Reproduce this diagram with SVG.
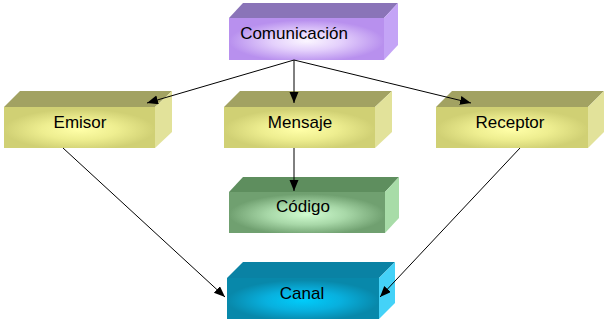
<svg xmlns="http://www.w3.org/2000/svg" width="606" height="323" viewBox="0 0 606 323">
<defs>
<radialGradient id="gPur" cx="0.5" cy="0.55" r="0.5"><stop offset="0" stop-color="#fbf6ff"/><stop offset="0.45" stop-color="#e4d0fc"/><stop offset="1" stop-color="#b890ee"/></radialGradient>
<radialGradient id="gYel" cx="0.5" cy="0.55" r="0.5"><stop offset="0" stop-color="#ffffa8"/><stop offset="0.5" stop-color="#eeee90"/><stop offset="1" stop-color="#d0d074"/></radialGradient>
<radialGradient id="gGrn" cx="0.5" cy="0.55" r="0.5"><stop offset="0" stop-color="#d0fcd0"/><stop offset="0.5" stop-color="#a8d8a8"/><stop offset="1" stop-color="#70a070"/></radialGradient>
<radialGradient id="gBlu" cx="0.5" cy="0.55" r="0.5"><stop offset="0" stop-color="#00ccfa"/><stop offset="0.5" stop-color="#08b0de"/><stop offset="1" stop-color="#0888aa"/></radialGradient>
<marker id="ah" markerUnits="userSpaceOnUse" markerWidth="12" markerHeight="10" refX="11" refY="4.5" orient="auto"><path d="M0,0 L11,4.5 L0,9 z" fill="#000"/></marker>
</defs>
<style>
text{font-family:"Liberation Sans",Arial,sans-serif;font-size:17px;fill:#000;text-anchor:middle}
.c line{stroke:#000;stroke-width:1;marker-end:url(#ah)}
.pur .top{fill:#8a74b8}.pur .side{fill:#c4a4f6}.pur .front{fill:url(#gPur)}
.yel .top{fill:#a2a262}.yel .side{fill:#e2e29a}.yel .front{fill:url(#gYel)}
.grn .top{fill:#5e8e5e}.grn .side{fill:#a8dca8}.grn .front{fill:url(#gGrn)}
.blu .top{fill:#0a82a4}.blu .side{fill:#44d2f8}.blu .front{fill:url(#gBlu)}
</style>
<g id="comunicacion" class="pur">
<polygon class="top" points="229,18 243,3 398,3 384,18"/>
<polygon class="side" points="384,18 398,3 398,45 384,60"/>
<rect class="front" x="229" y="18" width="155" height="42"/>
<text x="294" y="39">Comunicación</text>
</g>
<g id="emisor" class="yel">
<polygon class="top" points="4,107 20,91 172,91 155,107"/>
<polygon class="side" points="155,107 172,91 172,132 155,148"/>
<rect class="front" x="4" y="107" width="151" height="41"/>
<text x="80" y="128">Emisor</text>
</g>
<g id="mensaje" class="yel">
<polygon class="top" points="224,107 240,91 392,91 375,107"/>
<polygon class="side" points="375,107 392,91 392,132 375,148"/>
<rect class="front" x="224" y="107" width="151" height="41"/>
<text x="300" y="128">Mensaje</text>
</g>
<g id="receptor" class="yel">
<polygon class="top" points="436,107 452,91 604,91 588,107"/>
<polygon class="side" points="588,107 604,91 604,132 588,148"/>
<rect class="front" x="436" y="107" width="152" height="41"/>
<text x="510" y="128">Receptor</text>
</g>
<g id="codigo" class="grn">
<polygon class="top" points="229,192 243,177 399,177 385,192"/>
<polygon class="side" points="385,192 399,177 399,218 385,233"/>
<rect class="front" x="229" y="192" width="156" height="41"/>
<text x="303" y="212">Código</text>
</g>
<g id="canal" class="blu">
<polygon class="top" points="227,278 243,262 395,262 379,278"/>
<polygon class="side" points="379,278 395,262 395,303 379,319"/>
<rect class="front" x="227" y="278" width="152" height="41"/>
<text x="302" y="299">Canal</text>
</g>
<g id="connectors" class="c">
<line x1="294" y1="60" x2="147" y2="103"/>
<line x1="294" y1="60" x2="294" y2="103"/>
<line x1="294" y1="60" x2="471" y2="103"/>
<line x1="294" y1="148" x2="294" y2="191"/>
<line x1="63" y1="148" x2="225" y2="297"/>
<line x1="520" y1="148" x2="380" y2="297"/>
</g>
</svg>
